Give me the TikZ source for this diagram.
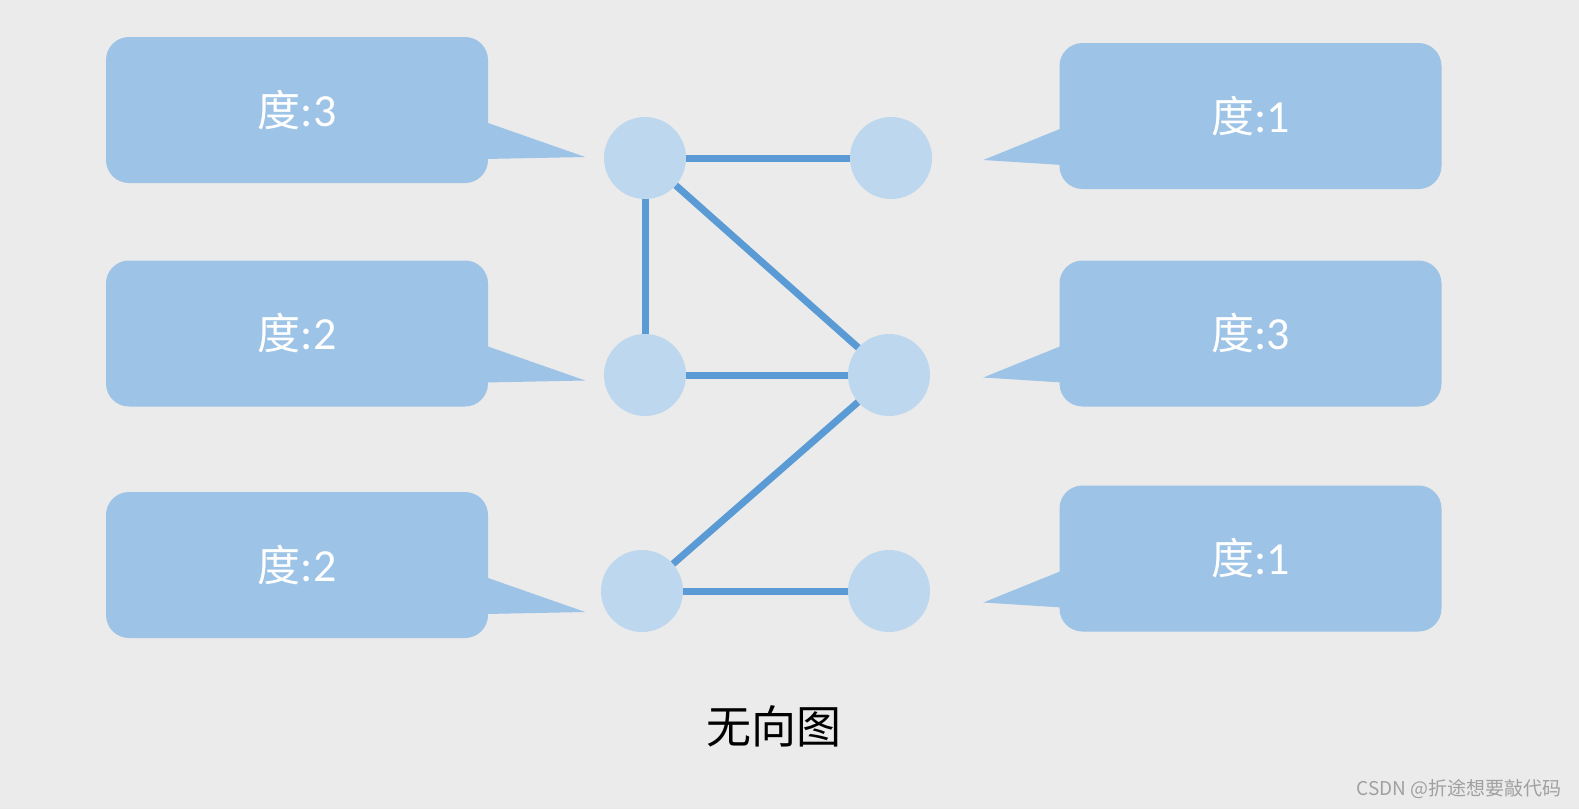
\documentclass[tikz,border=0pt]{standalone}
\usepackage{fontspec}
\setmainfont{Carlito}
\newfontfamily\cjk{Noto Sans CJK SC}
\usetikzlibrary{calc}
\definecolor{bgc}{HTML}{EBEBEB}
\definecolor{callc}{HTML}{9DC3E6}
\definecolor{vtxc}{HTML}{BDD7EE}
\definecolor{edgec}{HTML}{5B9BD5}
\definecolor{wmc}{HTML}{A0A0A0}
\tikzset{
  callbox/.style={fill=callc, rounded corners=23pt, minimum width=382pt, minimum height=146pt, inner sep=0pt, text=white, font=\fontsize{46}{46}\selectfont},
  vtx/.style={circle, fill=vtxc, minimum size=82pt, inner sep=0pt},
  gedge/.style={draw=edgec, line width=7pt},
  tailfill/.style={fill=callc},
}
\newcommand{\degtxt}[1]{{\cjk\fontsize{43}{43}\selectfont 度}:#1}
\begin{document}
\begin{tikzpicture}[x=1pt,y=-1pt]
\fill[bgc] (0,0) rectangle (1579,809);
\useasboundingbox (0,0) rectangle (1579,809);
% callouts left
\node[callbox] (l1) at (297,110) {\degtxt{3}};
\node[callbox] (l2) at (297,333.5) {\degtxt{2}};
\node[callbox] (l3) at (297,565) {\degtxt{2}};
\foreach \n in {l1,l2,l3}{
  \fill[tailfill] ($(\n.east)+(-3,12)$) -- ($(\n.east)+(97,47)$) -- ($(\n.east)+(-3,49)$) -- cycle;
}
% callouts right
\node[callbox] (r1) at (1250.5,116) {\degtxt{1}};
\node[callbox] (r2) at (1250.5,333.5) {\degtxt{3}};
\node[callbox] (r3) at (1250.5,558.5) {\degtxt{1}};
\foreach \n in {r1,r2,r3}{
  \fill[tailfill] ($(\n.west)+(3,12)$) -- ($(\n.west)+(-76,44)$) -- ($(\n.west)+(3,49)$) -- cycle;
}
% graph
\node[vtx] (a) at (645,158) {};
\node[vtx] (b) at (891,158) {};
\node[vtx] (c) at (645,375) {};
\node[vtx] (d) at (889,375) {};
\node[vtx] (e) at (642,591) {};
\node[vtx] (f) at (889,591) {};
\draw[gedge] (a) -- (b);
\draw[gedge] (a) -- (c);
\draw[gedge] (a) -- (d);
\draw[gedge] (c) -- (d);
\draw[gedge] (d) -- (e);
\draw[gedge] (e) -- (f);
% caption
\node[font=\cjk\fontsize{45}{45}\selectfont, text=black] (cap) at (774,726) {无向图};
\node[font=\cjk\fontsize{19}{19}\selectfont, text=wmc, anchor=east] (wm) at (1565,789) {CSDN @折途想要敲代码};
\end{tikzpicture}
\end{document}
